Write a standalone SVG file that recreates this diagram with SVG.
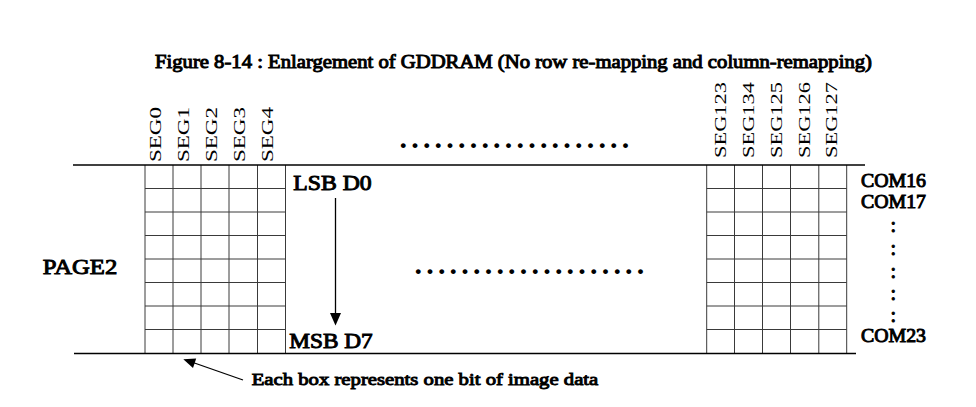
<svg xmlns="http://www.w3.org/2000/svg" width="976" height="407" viewBox="0 0 976 407">
<style>
.t{font-family:"Liberation Serif","DejaVu Serif","Times New Roman",serif;fill:#000}
.b{font-weight:normal;stroke:#000;stroke-width:0.95px;paint-order:stroke}
.seg{font-size:17px}
.g{stroke:#3a3a3a;stroke-width:1;fill:none}
.m{stroke:#000;stroke-width:1.3;fill:none}
.dots{font-size:30px;font-weight:bold;letter-spacing:4.2px}
</style>
<rect width="976" height="407" fill="#fff"/>
<text class="t b" x="155" y="67.7" font-size="18" textLength="717" lengthAdjust="spacingAndGlyphs">Figure 8-14 : Enlargement of GDDRAM (No row re-mapping and column-remapping)</text>

<g id="seg-labels-left">
<text class="t seg" transform="translate(160.5,162) rotate(-90)" textLength="55" lengthAdjust="spacingAndGlyphs">SEG0</text>
<text class="t seg" transform="translate(188.5,162) rotate(-90)" textLength="55" lengthAdjust="spacingAndGlyphs">SEG1</text>
<text class="t seg" transform="translate(216.5,162) rotate(-90)" textLength="55" lengthAdjust="spacingAndGlyphs">SEG2</text>
<text class="t seg" transform="translate(244.5,162) rotate(-90)" textLength="55" lengthAdjust="spacingAndGlyphs">SEG3</text>
<text class="t seg" transform="translate(272.5,162) rotate(-90)" textLength="55" lengthAdjust="spacingAndGlyphs">SEG4</text>
</g>
<g id="seg-labels-right">
<text class="t seg" transform="translate(726,158) rotate(-90)" textLength="76" lengthAdjust="spacingAndGlyphs">SEG123</text>
<text class="t seg" transform="translate(753.5,158) rotate(-90)" textLength="76" lengthAdjust="spacingAndGlyphs">SEG134</text>
<text class="t seg" transform="translate(781.5,158) rotate(-90)" textLength="76" lengthAdjust="spacingAndGlyphs">SEG125</text>
<text class="t seg" transform="translate(809.5,158) rotate(-90)" textLength="76" lengthAdjust="spacingAndGlyphs">SEG126</text>
<text class="t seg" transform="translate(837,158) rotate(-90)" textLength="76" lengthAdjust="spacingAndGlyphs">SEG127</text>
</g>

<text id="dots-top" class="t dots" x="399.5" y="148">....................</text>
<text id="dots-mid" class="t dots" x="414.5" y="274">....................</text>

<g id="grid-left" class="g">
<path d="M145,165V353.5M173,165V353.5M201,165V353.5M229,165V353.5M257.5,165V353.5M285.5,165V353.5"/>
<path d="M145,188.5H285.5M145,212H285.5M145,235.5H285.5M145,259H285.5M145,282.5H285.5M145,306H285.5M145,329.5H285.5"/>
</g>
<g id="grid-right" class="g">
<path d="M706.7,165V353.5M734.5,165V353.5M762.5,165V353.5M790.5,165V353.5M818.8,165V353.5M846.7,165V353.5"/>
<path d="M706.7,188.5H846.7M706.7,212H846.7M706.7,235.5H846.7M706.7,259H846.7M706.7,282.5H846.7M706.7,306H846.7M706.7,329.5H846.7"/>
</g>

<g id="connectors">
<path class="m" d="M73,165H865"/>
<path class="m" d="M74,353.5H856"/>
<path class="m" d="M335.5,198V314"/>
<polygon points="330,313 341,313 335.5,325.5" fill="#000"/>
<path class="m" d="M243,380L193,362.5"/>
<polygon points="183.3,359.3 196.2,358.5 193,367.9" fill="#000"/>
</g>

<g id="lsb"><text class="t b" x="293.3" y="190" font-size="21" textLength="78.4" lengthAdjust="spacingAndGlyphs">LSB D0</text></g>
<g id="msb"><text class="t b" x="289.3" y="348.3" font-size="21" textLength="83.4" lengthAdjust="spacingAndGlyphs">MSB D7</text></g>
<g id="page2"><text class="t b" x="42.7" y="274" font-size="22" textLength="74.6" lengthAdjust="spacingAndGlyphs">PAGE2</text></g>

<g id="com-labels" class="t b">
<text x="861" y="186.7" font-size="18.5" textLength="65" lengthAdjust="spacingAndGlyphs">COM16</text>
<text x="861" y="208.3" font-size="18.5" textLength="65" lengthAdjust="spacingAndGlyphs">COM17</text>
<text x="893.3" y="232" font-size="20" text-anchor="middle">:</text>
<text x="893.3" y="255" font-size="20" text-anchor="middle">:</text>
<text x="893.3" y="278" font-size="20" text-anchor="middle">:</text>
<text x="893.3" y="299.5" font-size="20" text-anchor="middle">:</text>
<text x="893.3" y="321.5" font-size="20" text-anchor="middle">:</text>
<text x="861" y="341.7" font-size="18.5" textLength="65" lengthAdjust="spacingAndGlyphs">COM23</text>
</g>

<g id="note"><text class="t b" x="251.7" y="385" font-size="17.5" textLength="346.6" lengthAdjust="spacingAndGlyphs">Each box represents one bit of image data</text></g>
</svg>
